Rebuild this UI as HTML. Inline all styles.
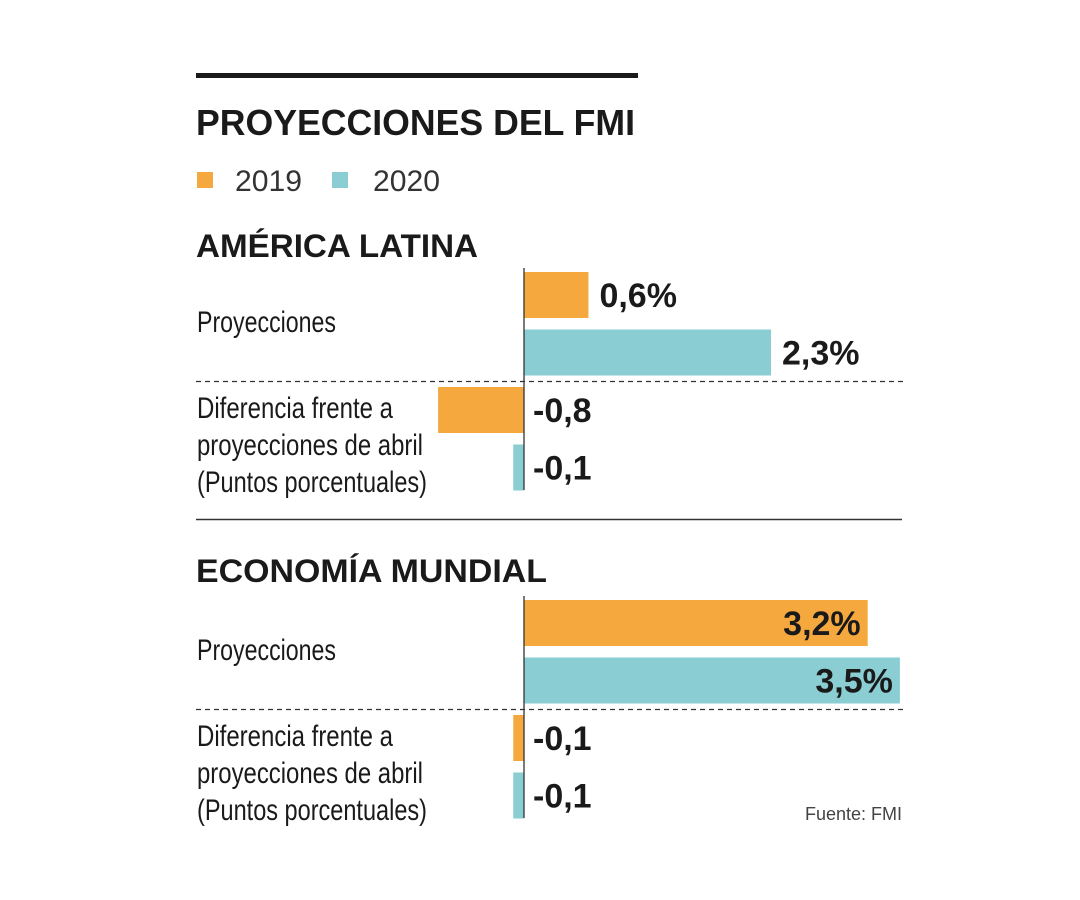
<!DOCTYPE html>
<html><head><meta charset="utf-8"><style>
body{margin:0;background:#fff;}
svg{display:block;font-family:"Liberation Sans",sans-serif;}
</style></head><body>
<svg id="chart" width="1080" height="900" viewBox="0 0 1080 900">
<rect x="196" y="73" width="442" height="5" fill="#1a1a1a"/>
<text x="196" y="135" font-size="36" font-weight="bold" fill="#1a1a1a" textLength="439" lengthAdjust="spacingAndGlyphs">PROYECCIONES DEL FMI</text>
<g>
<rect x="197" y="172" width="16" height="16" fill="#F5A83E"/>
<text x="235" y="191" font-size="30" fill="#333" textLength="67" lengthAdjust="spacingAndGlyphs">2019</text>
<rect x="332" y="172" width="16" height="16" fill="#8ACED3"/>
<text x="373" y="191" font-size="30" fill="#333" textLength="67" lengthAdjust="spacingAndGlyphs">2020</text>
</g>
<text x="196" y="257" font-size="32" font-weight="bold" fill="#1a1a1a" textLength="282" lengthAdjust="spacingAndGlyphs">AMÉRICA LATINA</text>
<line x1="196" y1="519.5" x2="902" y2="519.5" stroke="#333" stroke-width="1.5"/>
<text x="196" y="582" font-size="32" font-weight="bold" fill="#1a1a1a" textLength="351" lengthAdjust="spacingAndGlyphs">ECONOMÍA MUNDIAL</text>
<text x="902" y="820" font-size="18" fill="#444" text-anchor="end">Fuente: FMI</text>
<g id="bars"></g>
</svg>
<script>
const sections = ["america-latina", "economia-mundial"];
const proj2019 = [0.6, 3.2];
const proj2020 = [2.3, 3.5];
const diff2019 = [-0.8, -0.1];
const diff2020 = [-0.1, -0.1];
const projLabels2019 = ["0,6%", "3,2%"];
const projLabels2020 = ["2,3%", "3,5%"];
const diffLabels2019 = ["-0,8", "-0,1"];
const diffLabels2020 = ["-0,1", "-0,1"];

const NS = "http://www.w3.org/2000/svg";
const g = document.getElementById("bars");
const x0 = 524, pxPerUnit = 107.4;
const xScale = v => x0 + v * pxPerUnit;
const tops = [272, 600];
const colors = ["#F5A83E", "#8ACED3"];

function mk(tag, attrs) {
  const el = document.createElementNS(NS, tag);
  for (const k in attrs) el.setAttribute(k, attrs[k]);
  g.appendChild(el);
  return el;
}
function txt(x, y, s, size, weight, anchor, len) {
  const t = mk("text", {x: x, y: y, "font-size": size, "font-weight": weight, fill: "#1a1a1a", "text-anchor": anchor});
  if (len) { t.setAttribute("textLength", len); t.setAttribute("lengthAdjust", "spacingAndGlyphs"); }
  t.textContent = s;
  return t;
}

sections.forEach((sec, i) => {
  const top = tops[i];
  const rows = [
    [proj2019[i], projLabels2019[i], 0, "projection-2019"],
    [proj2020[i], projLabels2020[i], 1, "projection-2020"],
    [diff2019[i], diffLabels2019[i], 0, "difference-2019"],
    [diff2020[i], diffLabels2020[i], 1, "difference-2020"]
  ];
  rows.forEach((r, j) => {
    const y = top + j * 57.5;
    const v = r[0];
    const xa = Math.min(xScale(0), xScale(v)), xb = Math.max(xScale(0), xScale(v));
    const b = mk("rect", {x: xa, y: y, width: xb - xa, height: 46, fill: colors[r[2]]});
    
    
    let lx, anchor;
    if (v < 0) { lx = x0 + 9; anchor = "start"; }
    else if (v > 3) { lx = xScale(v) - 7; anchor = "end"; }
    else { lx = xScale(v) + 11; anchor = "start"; }
    const l = txt(lx, y + 35, r[1], 34, "bold", anchor);
    
    
  });
  const d = mk("line", {x1: 196, y1: top + 109.5, x2: 903, y2: top + 109.5, stroke: "#333", "stroke-width": 1.2, "stroke-dasharray": "5,4"});
  
  
  const ax = mk("line", {x1: x0, y1: top - 4, x2: x0, y2: top + 218, stroke: "#333", "stroke-width": 1.3});
  
  
  const p = txt(197, top + 60, "Proyecciones", 30, "normal", "start", 139);
  
  
  const lines = ["Diferencia frente a", "proyecciones de abril", "(Puntos porcentuales)"];
  const lens = [196, 226, 230];
  lines.forEach((s, k) => {
    const t = txt(197, top + 146 + k * 37, s, 30, "normal", "start", lens[k]);
    
    
  });
});
</script>
</body></html>
